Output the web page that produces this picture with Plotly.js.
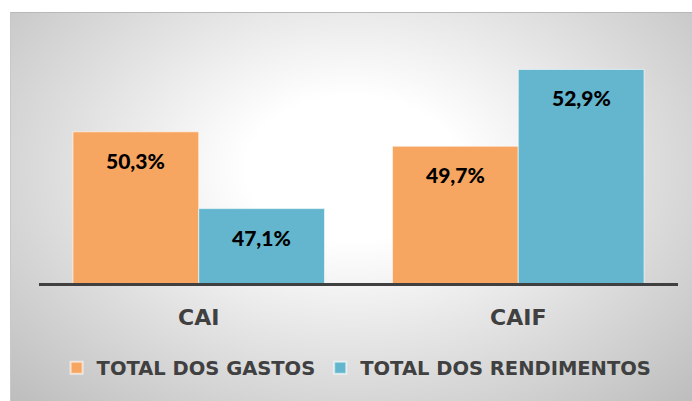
<!DOCTYPE html>
<html><head><meta charset="utf-8">
<script src="https://cdn.plot.ly/plotly-3.0.1.min.js"></script>
<style>
html,body{margin:0;padding:0;background:#fff;}
#wrap{position:relative;width:692px;height:401px;overflow:hidden;}
#bg{position:absolute;left:10px;top:12px;width:682px;height:389px;
 background:radial-gradient(ellipse at 50% 40%, #ffffff 0%, #ffffff 22%, #bdbdbd 100%);
 border-top:1px solid #b8b8b8;border-left:1px solid #c8c8c8;}
#chart{position:absolute;left:0;top:0;width:692px;height:401px;}
</style></head>
<body><div id="wrap"><div id="bg"></div><div id="chart"></div></div>
<script>
const categories = ["CAI", "CAIF"];
const gastos = [50.3, 49.7];
const rendimentos = [47.1, 52.9];
const seriesNames = ["TOTAL DOS GASTOS", "TOTAL DOS RENDIMENTOS"];
const colors = ["#F7A661", "#63B6CD"];

const fmt = v => v.toFixed(1).replace('.', ',') + '%';
const series = [gastos, rendimentos];
const traces = series.map((vals, i) => ({
  type: 'bar', name: seriesNames[i], x: categories, y: vals,
  marker: {color: colors[i], line: {color: 'rgba(255,255,255,0.6)', width: 1}},
  hoverinfo: 'skip'
}));
const annotations = [];
series.forEach((vals, i) => {
  vals.forEach((v, j) => {
    annotations.push({x: categories[j], y: v, xref: 'x', yref: 'y', text: fmt(v),
      showarrow: false, yanchor: 'top', yshift: -14, xshift: (i === 0 ? -63 : 63),
      font: {family: 'Lato, sans-serif', size: 21, color: '#000', weight: 900}});
  });
});
const layout = {
  width: 692, height: 401,
  margin: {l: 38.5, r: 13.5, t: 43, b: 118},
  paper_bgcolor: 'rgba(0,0,0,0)', plot_bgcolor: 'rgba(0,0,0,0)',
  barmode: 'group', bargap: 0.2125, bargroupgap: 0,
  xaxis: {showline: true, linecolor: '#404040', linewidth: 3, ticks: '', showgrid: false,
    ticklabelstandoff: 13,
    tickfont: {family: '"DejaVu Sans", sans-serif', size: 22, color: '#404040', weight: 'bold'}},
  yaxis: {range: [44, 54], visible: false, showgrid: false, zeroline: false},
  showlegend: true,
  legend: {orientation: 'h', x: 0.497, xanchor: 'center', y: -0.354, yanchor: 'middle',
    font: {family: '"DejaVu Sans", sans-serif', size: 19.5, color: '#404040', weight: 'bold'},
    itemsizing: 'constant', traceorder: 'normal', bgcolor: 'rgba(0,0,0,0)'},
  annotations: annotations
};
Plotly.newPlot('chart', traces, layout, {displayModeBar: false, staticPlot: true});
</script></body></html>
